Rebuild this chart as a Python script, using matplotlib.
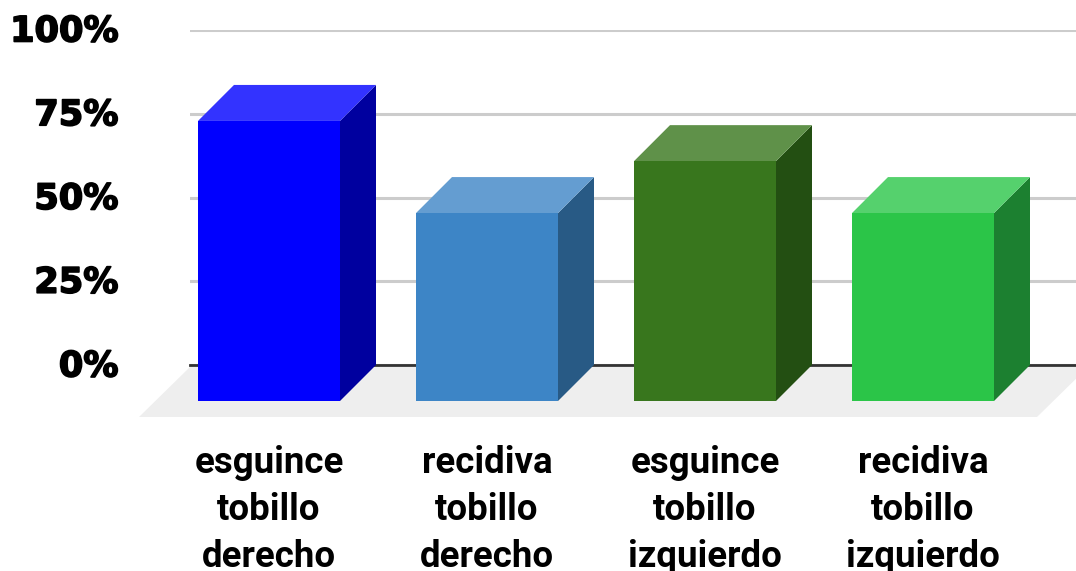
import matplotlib
matplotlib.use("Agg")
import matplotlib.pyplot as plt
import matplotlib.patheffects as pe
from matplotlib.patches import Polygon
from matplotlib.transforms import ScaledTranslation

W, H = 1076, 571

categories = ["esguince\ntobillo\nderecho", "recidiva\ntobillo\nderecho",
              "esguince\ntobillo\nizquierdo", "recidiva\ntobillo\nizquierdo"]
values = [83.6, 56.1, 71.6, 56.1]
y_ticks = [0, 25, 50, 75, 100]
y_labels = ["0%", "25%", "50%", "75%", "100%"]

front_colors = ["#0000ff", "#3d85c6", "#38761d", "#2bc548"]
side_colors = ["#00009f", "#285a85", "#234f12", "#1c8030"]
top_colors = ["#3333ff", "#649dd1", "#5f9149", "#55d16d"]

fig = plt.figure(figsize=(W / 100, H / 100), dpi=100)
# axes box runs from the 100% line down to the 0% line
ax = fig.add_axes([190 / W, 1 - 365 / H, (W - 190) / W, 335 / H])

px_x = 1 / 218  # one category slot is 218 px wide
px_y = 100 / 335
ax.set_xlim(-79 * px_x, (W - 269) * px_x)
ax.set_ylim(0, 100)

bar_width = 142 * px_x
dx = 36 * px_x
dy = 36 * px_y

# floor of the 3d box
floor_x = [139, 190, 1088, 1037]
floor_y = [-52, -2, -2, -52]
ax.add_patch(Polygon([((a - 269) * px_x, b * px_y) for a, b in zip(floor_x, floor_y)],
                     facecolor="#eeeeee", edgecolor="none", clip_on=False, zorder=1))

ax.yaxis.grid(True, color="#cccccc", linewidth=2.2, zorder=0)
ax.set_axisbelow(True)
for name in ["top", "left", "right"]:
    ax.spines[name].set_visible(False)
ax.spines["bottom"].set_color("#333333")
ax.spines["bottom"].set_linewidth(2)
ax.spines["bottom"].set_zorder(1.5)

for i, v in enumerate(values):
    left = i - bar_width / 2
    right = i + bar_width / 2
    ax.bar(i, v, width=bar_width, bottom=-dy, color=front_colors[i], clip_on=False, zorder=3)
    # right face
    ax.add_patch(Polygon([(right, -dy), (right + dx, 0), (right + dx, v), (right, v - dy)],
                         facecolor=side_colors[i], edgecolor="none", clip_on=False, zorder=2))
    # top face
    ax.add_patch(Polygon([(left, v - dy), (left + dx, v), (right + dx, v), (right, v - dy)],
                         facecolor=top_colors[i], edgecolor="none", clip_on=False, zorder=2))

ax.set_yticks(y_ticks)
ax.set_yticklabels(y_labels, fontfamily="DejaVu Sans", fontweight="bold", fontsize=25.3, color="#000000")
ax.tick_params(axis="y", length=0, pad=51.5)
# heavier percent labels, nudged up 2 px
shift_up = ScaledTranslation(0, 2 / 100, fig.dpi_scale_trans)
for label in ax.get_yticklabels():
    label.set_transform(label.get_transform() + shift_up)
    label.set_path_effects([pe.withStroke(linewidth=1.2, foreground="#000000")])

ax.set_xticks(range(len(categories)))
ax.set_xticklabels(categories, fontfamily="Roboto", fontweight="bold", fontsize=26.4,
                   color="#000000", linespacing=1.39)
ax.tick_params(axis="x", length=0, pad=57.5)

fig.savefig("out.png", dpi=100)
